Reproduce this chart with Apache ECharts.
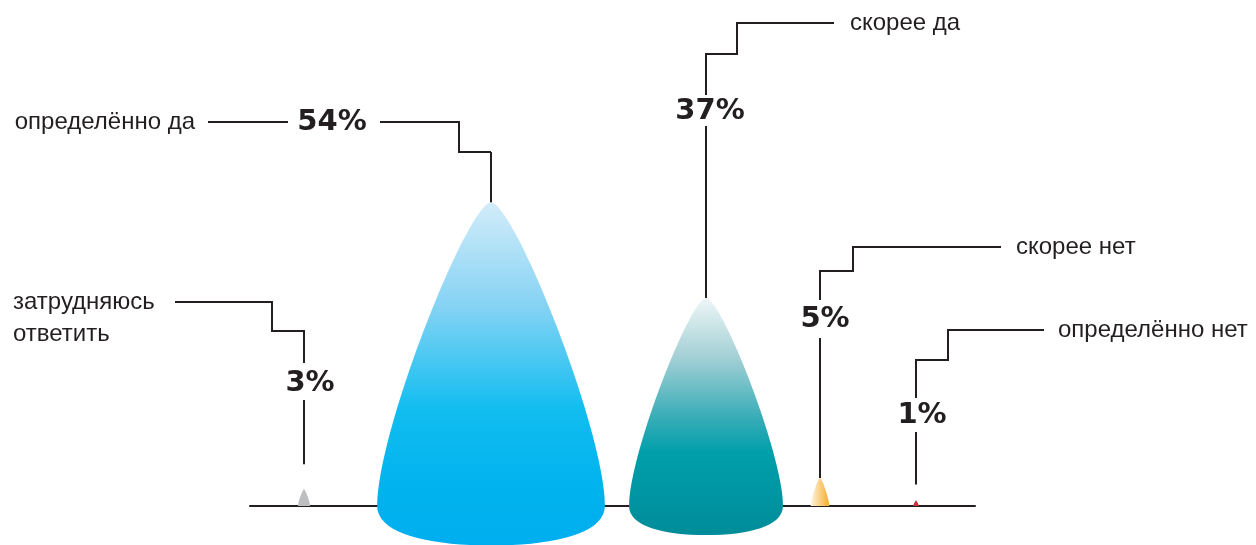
<!DOCTYPE html>
<html>
<head>
<meta charset="utf-8">
<script src="https://cdn.jsdelivr.net/npm/echarts@6/dist/echarts.min.js"></script>
<style>
  html, body { margin: 0; padding: 0; background: #fff; }
  #chart { width: 1256px; height: 545px; }
</style>
</head>
<body>
<div id="chart"></div>
<script>
var categories = ['затрудняюсь\nответить', 'определённо да', 'скорее да', 'скорее нет', 'определённо нет'];
var values = [3, 54, 37, 5, 1];

// layout of each drop: shift from category center, width and depth (relative to height)
var xShift = [-18.5, 23.5, 93.5, 62.5, 13.5];
var widthRatio = [0.72, 0.75, 0.74, 0.66, 1.0];
var depthRatio = [0, 0.13, 0.14, 0, 0];

// leader lines: gap above drop, where stem ends, polylines (dx, y), % label, name label
var leaders = [
  { gap: 25, stemEnd: 400, lines: [[[0, 363], [0, 331], [-32, 331], [-32, 302], [-129, 302]]], pct: [6, 383], text: [-291, 302, 'left'] },
  { gap: 0, stemEnd: 152, lines: [[[0, 152], [-32, 152], [-32, 122], [-111, 122]], [[-203, 122], [-283, 122]]], pct: [-159, 122], text: [-296, 122, 'right'] },
  { gap: 0, stemEnd: 126, lines: [[[0, 95], [0, 54], [31, 54], [31, 23], [128, 23]]], pct: [4, 111], text: [144, 23, 'left'] },
  { gap: 0, stemEnd: 338, lines: [[[0, 300], [0, 271], [33, 271], [33, 247], [181, 247]]], pct: [5, 319], text: [196, 247, 'left'] },
  { gap: 16, stemEnd: 432, lines: [[[0, 398], [0, 360], [32, 360], [32, 330], [128, 330]]], pct: [6, 415], text: [142, 330, 'left'] }
];

var ink = '#231f20';
var fills = [
  '#bcbec0',
  { type: 'linear', x: 0, y: 0, x2: 0, y2: 1, colorStops: [
    { offset: 0, color: '#d2ecf9' }, { offset: 0.3, color: '#86d3f4' },
    { offset: 0.6, color: '#12bdf0' }, { offset: 0.85, color: '#00b2ee' }, { offset: 1, color: '#00aeef' }] },
  { type: 'linear', x: 0, y: 0, x2: 0, y2: 1, colorStops: [
    { offset: 0, color: '#eef6f7' }, { offset: 0.25, color: '#a3d0d5' },
    { offset: 0.5, color: '#3aadb7' }, { offset: 0.65, color: '#009fab' }, { offset: 1, color: '#008c99' }] },
  { type: 'linear', x: 0, y: 0, x2: 1, y2: 0, colorStops: [
    { offset: 0, color: '#fdf4e0' }, { offset: 1, color: '#f6ab2a' }] },
  '#c8333b'
];

var chart = echarts.init(document.getElementById('chart'));

var dropShape = function(params, api) {
  var i = params.dataIndex;
  var top = api.coord([i, api.value(1)]);
  var base = api.coord([i, 0]);
  var cx = top[0] + xShift[i];
  var ty = top[1], by = base[1];
  var H = by - ty;
  var hw = H * widthRatio[i] / 2;
  var d = H * depthRatio[i];
  var a = 0.2, b = 0.75;
  var p = 'M' + cx + ' ' + ty +
    ' C' + (cx + a * hw) + ' ' + ty + ' ' + (cx + hw) + ' ' + (ty + b * H) + ' ' + (cx + hw) + ' ' + by +
    ' C' + (cx + hw) + ' ' + (by + 0.7 * d) + ' ' + (cx + 0.55 * hw) + ' ' + (by + d) + ' ' + cx + ' ' + (by + d) +
    ' C' + (cx - 0.55 * hw) + ' ' + (by + d) + ' ' + (cx - hw) + ' ' + (by + 0.7 * d) + ' ' + (cx - hw) + ' ' + by +
    ' C' + (cx - hw) + ' ' + (ty + b * H) + ' ' + (cx - a * hw) + ' ' + ty + ' ' + cx + ' ' + ty + ' Z';
  return {
    type: 'path',
    shape: { pathData: p, x: cx - hw, y: ty, width: hw * 2, height: H + d },
    style: { fill: fills[i], stroke: null }
  };
};

var leaderShape = function(params, api) {
  var i = params.dataIndex;
  var top = api.coord([i, api.value(1)]);
  var cx = Math.round(top[0] + xShift[i]);
  var L = leaders[i];
  var kids = [];
  kids.push({ type: 'line', shape: { x1: cx, y1: top[1] - L.gap, x2: cx, y2: L.stemEnd },
    style: { stroke: ink, lineWidth: 2 } });
  for (var k = 0; k < L.lines.length; ++k) {
    var pts = [];
    for (var j = 0; j < L.lines[k].length; ++j) {
      pts.push([cx + L.lines[k][j][0], L.lines[k][j][1]]);
    }
    kids.push({ type: 'polyline', shape: { points: pts }, style: { stroke: ink, lineWidth: 2, fill: null } });
  }
  kids.push({ type: 'text', x: cx + L.pct[0], y: L.pct[1],
    style: { text: api.value(1) + '%', fill: ink, font: 'bold 29px "DejaVu Sans"', align: 'center', verticalAlign: 'middle' } });
  var multi = categories[i].indexOf('\n') >= 0;
  kids.push({ type: 'text', x: cx + L.text[0], y: multi ? L.text[1] - 16 : L.text[1],
    style: { text: categories[i], fill: ink, font: '24px "Liberation Sans"', lineHeight: 32,
      align: L.text[2], verticalAlign: multi ? 'top' : 'middle' } });
  return { type: 'group', children: kids };
};

var seriesData = [];
for (var i = 0; i < values.length; ++i) {
  seriesData.push([i, values[i]]);
}

var option = {
  animation: false,
  grid: { left: 250, right: 281, top: 0, bottom: 39 },
  xAxis: {
    type: 'category',
    data: categories,
    axisLine: { show: true, lineStyle: { color: ink, width: 2 } },
    axisTick: { show: false },
    axisLabel: { show: false }
  },
  yAxis: {
    type: 'value',
    min: 0,
    max: 90,
    show: false,
    splitLine: { show: false }
  },
  series: [{
    type: 'custom',
    renderItem: dropShape,
    data: seriesData,
    clip: false,
    z: 5
  }, {
    type: 'custom',
    renderItem: leaderShape,
    data: seriesData,
    clip: false,
    z: 4
  }]
};

chart.setOption(option);
</script>
</body>
</html>
